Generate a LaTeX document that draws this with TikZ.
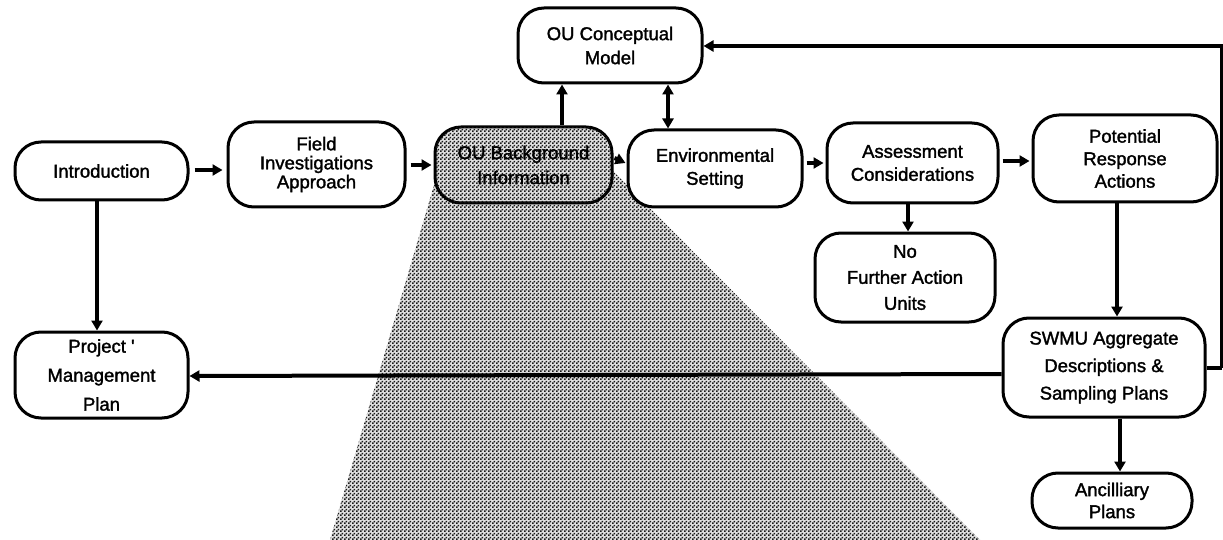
\documentclass[tikz,border=0pt]{standalone}
\usepackage{fontspec}
\setmainfont{Liberation Sans}[UprightFeatures={FakeBold=1.6}]
\usetikzlibrary{arrows.meta,patterns.meta}

% fine checker halftone used for the background-information area
\tikzdeclarepattern{
  name=halftone,
  type=uncolored,
  bounding box={(0pt,0pt) and (4pt,4pt)},
  tile size={(4pt,4pt)},
  code={
    \fill (0pt,0pt) rectangle (2pt,2pt);
    \fill (2pt,2pt) rectangle (4pt,4pt);
  }
}

\tikzset{
  stage/.style={draw=black, line width=3pt, fill=white, rounded corners=26pt,
    align=center, inner sep=0pt, font=\fontsize{18.5}{20}\selectfont},
  lines/.style={font=\fontsize{18.5}{#1}\selectfont},
  shade/.style={fill=black!12, postaction={pattern=halftone, pattern color=black!90}},
  flow/.style={line width=4pt, -{Triangle[length=10pt,width=11pt]}},
  flowboth/.style={line width=4pt, {Triangle[length=10pt,width=11pt]}-{Triangle[length=10pt,width=11pt]}},
  feed/.style={line width=4pt},
}

\begin{document}
\begin{tikzpicture}[x=1pt,y=-1pt]
\useasboundingbox (0,0) rectangle (1223,540);

% shaded wedge opening below the background-information box
\path[shade] (437,175) -- (330,540) -- (980,540) -- (590,148) -- cycle;

% stages
\node[stage, minimum width=173pt, minimum height=58pt] (intro) at (101.5,171) {Introduction};
\node[stage, lines=19pt, minimum width=177pt, minimum height=85pt] (field) at (316.5,164.5) {Field\\Investigations\\Approach};
\node[stage, lines=25pt, shade, minimum width=177pt, minimum height=76pt] (bg) at (523.5,165) {OU Background\\Information};
\node[stage, lines=24pt, minimum width=184pt, minimum height=75pt] (concept) at (610,45.5) {OU Conceptual\\Model};
\node[stage, lines=23pt, minimum width=174pt, minimum height=77pt] (env) at (715,168.5) {Environmental\\Setting};
\node[stage, lines=23pt, minimum width=171pt, minimum height=80pt] (assess) at (912.5,163) {Assessment\\Considerations};
\node[stage, lines=22.5pt, minimum width=184pt, minimum height=87pt] (potential) at (1125,158.5) {Potential\\Response\\Actions};
\node[stage, lines=26pt, minimum width=180pt, minimum height=89pt] (nfa) at (905,277.5) {No\\Further Action\\Units};
\node[stage, lines=27.5pt, minimum width=202pt, minimum height=99pt] (swmu) at (1104,367.5) {SWMU Aggregate\\Descriptions \&\\Sampling Plans};
\node[stage, lines=22pt, minimum width=160pt, minimum height=55pt] (ancil) at (1112,500.5) {Ancilliary\\Plans};
\node[stage, lines=29pt, minimum width=173pt, minimum height=86pt] (pmp) at (101.5,375) {Project \textquotesingle\\Management\\Plan};

% feedback loop corners along the right edge
\coordinate (rlow) at (1222,368);
\coordinate (rtop) at (1222,46);

% connectors
\draw[flow] (intro.east |- 0,170) ++(5,0) -- ([xshift=-4pt]field.west |- 0,170);
\draw[flow] (field.east |- 0,165) ++(4,0) -- ([xshift=-2pt]bg.west |- 0,165);
\draw[flow] (bg.north -| 562,0) -- (concept.south -| 562,0);
\draw[flowboth] (concept.south -| 668,0) -- (env.north -| 668,0);
\draw[flow] ([xshift=1pt]bg.east |- 0,158) -- ([xshift=-1pt]env.west |- 0,163);
\draw[flow] (env.east |- 0,163) ++(3,0) -- ([xshift=-2pt]assess.west |- 0,163);
\draw[flow] (assess.east |- 0,161) ++(3,0) -- ([xshift=-2pt]potential.west |- 0,161);
\draw[flow] (assess.south -| 908,0) -- (nfa.north -| 908,0);
\draw[flow] (potential.south -| 1117,0) -- (swmu.north -| 1117,0);
\draw[flow] (swmu.south -| 1120,0) -- (ancil.north -| 1120,0);
\draw[flow] (intro.south -| 97,0) -- (pmp.north -| 97,0);
\draw[flow] (swmu.west |- 0,374) -- (pmp.east |- 0,376);
\draw[feed] (swmu.east |- 0,368) -- (rlow);
\draw[flow] (rlow) -- (rtop) -- (concept.east |- rtop);

\end{tikzpicture}
\end{document}
